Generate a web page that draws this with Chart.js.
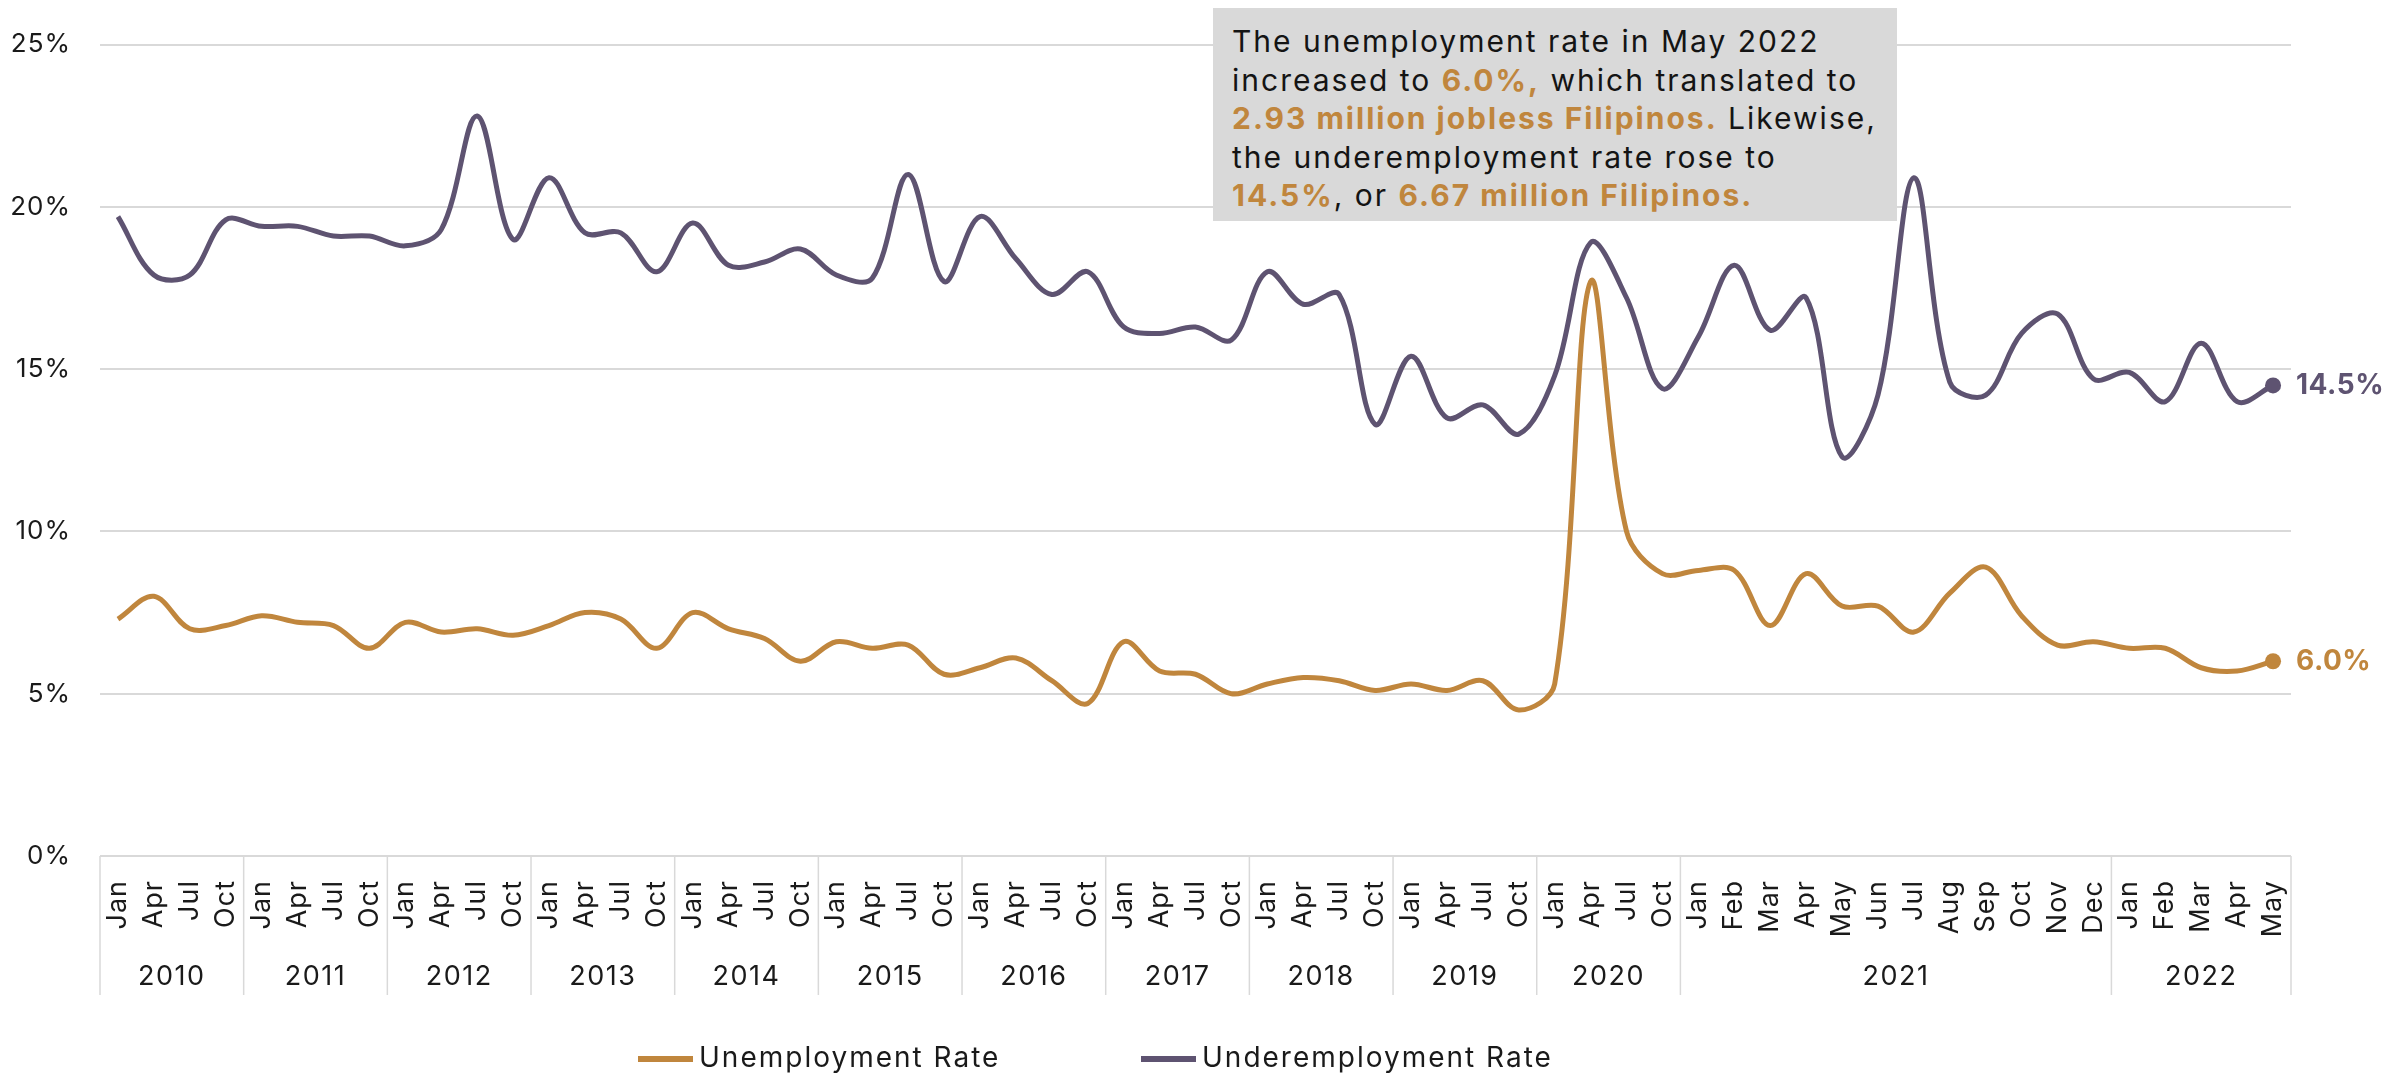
<!DOCTYPE html>
<html lang="en">

<head>
    <meta charset="UTF-8">
    <meta name="viewport" content="width=device-width, initial-scale=1.0">
    <title>Unemployment and Underemployment Rate</title>

    <!-- Chart.js -->
    <script src="https://cdn.jsdelivr.net/npm/chart.js"></script>

    <style>
        html,
        body {
            margin: 0;
            padding: 0;
            background: #ffffff;
        }

        .janela {
            position: relative;
            width: 2392px;
            height: 1075px;
        }

        /* caixa de destaque no topo */
        .nota {
            position: absolute;
            left: 1213px;
            top: 8px;
            width: 684px;
            height: 213px;
            box-sizing: border-box;
            padding: 14px 0 0 19px;
            background: #d9d9d9;
            font-family: Inter, sans-serif;
            font-size: 30px;
            line-height: 38.5px;
            letter-spacing: 2px;
            color: #141414;
        }

        .nota b {
            color: #c0863d;
            font-weight: 700;
        }
    </style>
</head>

<body>
    <div class="janela">
        <canvas id="grafico"></canvas>
        <div class="nota">
            The unemployment rate in May 2022<br>
            increased to <b>6.0%,</b> which translated to<br>
            <b>2.93 million jobless Filipinos.</b> Likewise,<br>
            the underemployment rate rose to<br>
            <b>14.5%</b>, or <b>6.67 million Filipinos.</b>
        </div>
    </div>

    <script>
        // anos e os meses de cada um (trimestral ate 2020, mensal depois)
        const anos = ['2010', '2011', '2012', '2013', '2014', '2015', '2016', '2017', '2018', '2019', '2020', '2021', '2022'];
        const mesesTrimestre = ['Jan', 'Apr', 'Jul', 'Oct'];
        const meses2021 = ['Jan', 'Feb', 'Mar', 'Apr', 'May', 'Jun', 'Jul', 'Aug', 'Sep', 'Oct', 'Nov', 'Dec'];
        const meses2022 = ['Jan', 'Feb', 'Mar', 'Apr', 'May'];

        // valores em %
        const unemployment = [
            7.3, 8.0, 7.0, 7.1,
            7.4, 7.2, 7.1, 6.4,
            7.2, 6.9, 7.0, 6.8,
            7.1, 7.5, 7.3, 6.4,
            7.5, 7.0, 6.7, 6.0,
            6.6, 6.4, 6.5, 5.6,
            5.8, 6.1, 5.4, 4.7,
            6.6, 5.7, 5.6, 5.0,
            5.3, 5.5, 5.4, 5.1,
            5.3, 5.1, 5.4, 4.5,
            5.3, 17.7, 10.0, 8.7,
            8.8, 8.8, 7.1, 8.7, 7.7, 7.7, 6.9, 8.1, 8.9, 7.4, 6.5, 6.6,
            6.4, 6.4, 5.8, 5.7, 6.0
        ];

        const underemployment = [
            19.7, 17.9, 17.9, 19.6,
            19.4, 19.4, 19.1, 19.1,
            18.8, 19.3, 22.8, 19.0,
            20.9, 19.2, 19.2, 18.0,
            19.5, 18.2, 18.3, 18.7,
            17.9, 17.8, 21.0, 17.7,
            19.7, 18.4, 17.3, 18.0,
            16.3, 16.1, 16.3, 15.9,
            18.0, 17.0, 17.3, 13.3,
            15.4, 13.5, 13.9, 13.0,
            14.8, 18.9, 17.2, 14.4,
            16.0, 18.2, 16.2, 17.2, 12.3, 14.2, 20.9, 14.6, 14.2, 16.1, 16.7, 14.7,
            14.9, 14.0, 15.8, 14.0, 14.5
        ];

        const yTicks = [0, 5, 10, 15, 20, 25];

        const corUnemp = '#c0863d';
        const corUnder = '#5e5371';
        const corGrade = '#d9d9d9';
        const corTexto = '#1a1a1a';
        const fonte = 'Inter';

        // monta os rotulos do eixo x e os grupos de ano
        const labels = [];
        const grupos = [];
        anos.forEach(ano => {
            let lista = mesesTrimestre;
            if (ano === '2021') lista = meses2021;
            if (ano === '2022') lista = meses2022;
            grupos.push({ ano: ano, inicio: labels.length, qtd: lista.length });
            lista.forEach(m => labels.push(m));
        });

        const ultimo = labels.length - 1;

        // desenha anos, separadores, legenda e valor final de cada serie
        const extrasPlugin = {
            id: 'extras',
            beforeDraw(chart) {
                // texto um pouco mais espacado nos eixos
                chart.ctx.letterSpacing = '1px';
            },
            afterDraw(chart) {
                const ctx = chart.ctx;
                const x = chart.scales.x;
                const area = chart.chartArea;
                const passo = x.getPixelForValue(1) - x.getPixelForValue(0);

                ctx.save();

                // separadores verticais entre os anos
                ctx.strokeStyle = corGrade;
                ctx.lineWidth = 1.5;
                const fimSeparador = area.bottom + 139;
                grupos.forEach((g, i) => {
                    const esq = x.getPixelForValue(g.inicio) - passo / 2;
                    ctx.beginPath();
                    ctx.moveTo(esq, area.bottom);
                    ctx.lineTo(esq, fimSeparador);
                    ctx.stroke();
                    if (i === grupos.length - 1) {
                        const dir = x.getPixelForValue(g.inicio + g.qtd - 1) + passo / 2;
                        ctx.beginPath();
                        ctx.moveTo(dir, area.bottom);
                        ctx.lineTo(dir, fimSeparador);
                        ctx.stroke();
                    }
                });

                // nomes dos anos
                ctx.fillStyle = corTexto;
                ctx.font = `27px ${fonte}`;
                ctx.letterSpacing = '1.5px';
                ctx.textAlign = 'center';
                ctx.textBaseline = 'middle';
                grupos.forEach(g => {
                    const centro = (x.getPixelForValue(g.inicio) + x.getPixelForValue(g.inicio + g.qtd - 1)) / 2;
                    ctx.fillText(g.ano, centro, area.bottom + 121);
                });

                // valor no ultimo ponto de cada serie
                ctx.font = `bold 28px ${fonte}`;
                ctx.letterSpacing = '0.5px';
                ctx.textAlign = 'left';
                chart.data.datasets.forEach((ds, i) => {
                    const ponto = chart.getDatasetMeta(i).data[ultimo];
                    ctx.fillStyle = ds.borderColor;
                    ctx.fillText(`${ds.data[ultimo].toFixed(1)}%`, ponto.x + 23, ponto.y);
                });

                // legenda
                const yLeg = 1059;
                let xLeg = 638;
                ctx.font = `28px ${fonte}`;
                ctx.letterSpacing = '2px';
                chart.data.datasets.forEach(ds => {
                    ctx.strokeStyle = ds.borderColor;
                    ctx.lineWidth = 6;
                    ctx.beginPath();
                    ctx.moveTo(xLeg, yLeg);
                    ctx.lineTo(xLeg + 55, yLeg);
                    ctx.stroke();
                    ctx.fillStyle = corTexto;
                    ctx.fillText(ds.label, xLeg + 61, yLeg);
                    xLeg += 503;
                });

                ctx.restore();
            }
        };

        const pontoFinal = c => (c.dataIndex === ultimo ? 8 : 0);

        const dados = {
            labels: labels,
            datasets: [{
                label: 'Unemployment Rate',
                data: unemployment,
                borderColor: corUnemp,
                backgroundColor: corUnemp,
                borderWidth: 5,
                tension: 0.35,
                pointRadius: pontoFinal,
                pointBorderWidth: 0,
                pointBackgroundColor: corUnemp
            },
            {
                label: 'Underemployment Rate',
                data: underemployment,
                borderColor: corUnder,
                backgroundColor: corUnder,
                borderWidth: 5,
                tension: 0.35,
                pointRadius: pontoFinal,
                pointBorderWidth: 0,
                pointBackgroundColor: corUnder
            }]
        };

        const config = {
            type: 'line',
            data: dados,
            plugins: [extrasPlugin],
            options: {
                responsive: true,
                maintainAspectRatio: false,
                animation: false,
                layout: {
                    padding: { top: 40, right: 101, bottom: 0, left: 0 }
                },
                plugins: {
                    legend: { display: false },
                    tooltip: { enabled: false }
                },
                scales: {
                    x: {
                        offset: true,
                        grid: { display: false },
                        border: { display: false },
                        ticks: {
                            autoSkip: false,
                            minRotation: 90,
                            maxRotation: 90,
                            padding: 16,
                            color: corTexto,
                            font: { family: fonte, size: 27 }
                        },
                        afterFit: scale => { scale.height = 219; }
                    },
                    y: {
                        min: yTicks[0],
                        max: yTicks[yTicks.length - 1],
                        afterBuildTicks: scale => {
                            scale.ticks = yTicks.map(v => ({ value: v }));
                        },
                        grid: { color: corGrade, lineWidth: 2, drawTicks: false },
                        border: { display: false },
                        ticks: {
                            padding: 29,
                            color: corTexto,
                            font: { family: fonte, size: 26 },
                            callback: v => `${v}%`
                        },
                        afterFit: scale => { scale.width = 100; }
                    }
                }
            }
        };

        const grafico = new Chart(document.getElementById('grafico'), config);
    </script>
</body>

</html>
